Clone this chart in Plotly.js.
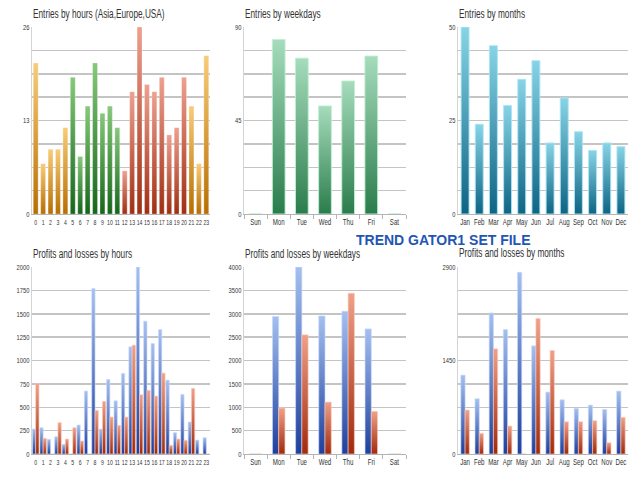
<!DOCTYPE html>
<html>
<head>
<meta charset="utf-8">
<script src="https://cdn.plot.ly/plotly-3.0.1.min.js"></script>
<style>
  html, body { margin: 0; padding: 0; background: #fff; }
  #chart { width: 640px; height: 480px; }
</style>
</head>
<body>
<div id="chart"></div>
<script>
// data
var hourLabels = ['0','1','2','3','4','5','6','7','8','9','10','11','12','13','14','15','16','17','18','19','20','21','22','23'];
var hourEntries = [21,7,9,9,12,19,8,15,21,14,15,12,6,17,26,18,17,19,11,12,19,15,7,22];
var hourSession = ['Asia','Asia','Asia','Asia','Asia','Europe','Europe','Europe','Europe','Europe','Europe','Europe',
                   'USA','USA','USA','USA','USA','USA','USA','USA','USA','Asia','Asia','Asia'];

var dayLabels = ['Sun','Mon','Tue','Wed','Thu','Fri','Sat'];
var dayEntries = [0,84,75,52,64,76,0];

var monthLabels = ['Jan','Feb','Mar','Apr','May','Jun','Jul','Aug','Sep','Oct','Nov','Dec'];
var monthEntries = [50,24,45,29,36,41,19,31,22,17,19,18];

var hourProfit = [267,281,157,185,103,0,310,673,1769,267,797,569,861,1146,2000,1420,1181,1331,790,228,637,342,149,174];
var hourLoss   = [755,167,0,335,160,281,139,0,466,562,395,306,395,1164,633,680,619,865,93,160,146,701,0,0];

var dayProfit = [0,2940,4000,2954,3053,2676,0];
var dayLoss   = [0,982,2548,1110,3438,911,0];

var monthProfit = [1223,857,2188,1930,2817,1677,960,841,707,758,691,975];
var monthLoss   = [681,320,1631,433,0,2100,1605,500,500,516,175,568];

// colours: base colour -> gradient (top, bottom)
var grads = {
  '#e09a2a': ['#f8cc78', '#b86e00'],   // asia orange
  '#3f983a': ['#86c97a', '#16661a'],   // europe green
  '#cc5a42': ['#eea090', '#a02e12'],   // usa red
  '#5caa82': ['#a6dcbc', '#2a7c4c'],   // weekday green
  '#3a9ab4': ['#88d4e6', '#0e6484'],   // month teal
  '#4a72c4': ['#a4c0f0', '#1e3f9c'],   // profit blue
  '#d05a3a': ['#f0a088', '#a02a0c']    // loss red
};
var sessionColor = {Asia: '#e09a2a', Europe: '#3f983a', USA: '#cc5a42'};

var W = 640, H = 480;
function px(x) { return x / W; }
function py(y) { return 1 - y / H; }

var font = 'Liberation Sans, Arial, sans-serif';
var colX = [[32, 210], [244, 406], [458, 628]];
var rowY = [[27, 214], [267, 454]];

function yTicks(max, labelled) {
  var vals = [], txt = [];
  for (var i = 0; i <= 8; i++) {
    var v = max * i / 8;
    vals.push(v);
    txt.push(labelled.indexOf(i) >= 0 ? String(Math.round(v)) : '');
  }
  return {vals: vals, txt: txt};
}

function xAxis(col, labels, anchor, boundaryTicks, fsize) {
  return {
    domain: [px(colX[col][0]), px(colX[col][1])],
    anchor: anchor,
    type: 'category',
    tickmode: 'array',
    tickvals: labels,
    ticktext: labels,
    showgrid: false,
    showline: true,
    linecolor: '#b4b4b4',
    linewidth: 1,
    ticks: boundaryTicks ? 'outside' : '',
    tickson: boundaryTicks ? 'boundaries' : 'labels',
    ticklen: 4,
    tickcolor: '#b4b4b4',
    tickfont: {family: font, size: fsize || 8.5, color: '#333'},
    tickangle: 0,
    fixedrange: true
  };
}
function yAxis(row, anchor, max, labelled) {
  var t = yTicks(max, labelled);
  return {
    domain: [py(rowY[row][1]), py(rowY[row][0])],
    anchor: anchor,
    range: [0, max],
    tickmode: 'array',
    tickvals: t.vals,
    ticktext: t.txt,
    showgrid: true,
    gridcolor: '#c4c4c4',
    gridwidth: 1.5,
    zeroline: false,
    showline: true,
    linecolor: '#d4d4d4',
    ticks: '',
    tickfont: {family: font, size: 8, color: '#333'},
    fixedrange: true
  };
}

var data = [];

// Entries by hours
data.push({
  type: 'bar', x: hourLabels, y: hourEntries, xaxis: 'x', yaxis: 'y',
  width: 0.66,
  marker: {color: hourSession.map(function (s) { return sessionColor[s]; }),
           line: {color: 'rgba(255,255,255,0.35)', width: 0.8}},
  showlegend: false
});
// Entries by weekdays
data.push({
  type: 'bar', x: dayLabels, y: dayEntries, xaxis: 'x2', yaxis: 'y2',
  width: 0.55,
  marker: {color: '#5caa82', line: {color: 'rgba(190,240,210,0.9)', width: 1}},
  showlegend: false
});
// Entries by months
data.push({
  type: 'bar', x: monthLabels, y: monthEntries, xaxis: 'x3', yaxis: 'y3',
  width: 0.56,
  marker: {color: '#3a9ab4', line: {color: 'rgba(170,230,245,0.9)', width: 1}},
  showlegend: false
});

// Profits and losses: blue left, red right inside each slot
function pnl(xs, prof, loss, xa, ya, w) {
  data.push({
    type: 'bar', x: xs, y: prof, xaxis: xa, yaxis: ya, width: w, offset: -w,
    marker: {color: '#4a72c4', line: {color: 'rgba(200,215,250,0.8)', width: 0.8}},
    name: 'Profit', showlegend: false
  });
  data.push({
    type: 'bar', x: xs, y: loss, xaxis: xa, yaxis: ya, width: w, offset: 0,
    marker: {color: '#d05a3a', line: {color: 'rgba(250,200,185,0.8)', width: 0.8}},
    name: 'Loss', showlegend: false
  });
}
pnl(hourLabels, hourProfit, hourLoss, 'x4', 'y4', 0.44);
pnl(dayLabels, dayProfit, dayLoss, 'x5', 'y5', 0.27);
pnl(monthLabels, monthProfit, monthLoss, 'x6', 'y6', 0.3);

function title(text, x, y) {
  return {text: text, xref: 'paper', yref: 'paper', x: px(x), y: py(y),
          xanchor: 'left', yanchor: 'middle', showarrow: false,
          font: {family: font, size: 12.5, color: '#333'}};
}

var layout = {
  width: W, height: H,
  margin: {l: 0, r: 0, t: 0, b: 0},
  paper_bgcolor: '#fff', plot_bgcolor: 'rgba(0,0,0,0)',
  barmode: 'overlay',
  showlegend: false,
  xaxis:  xAxis(0, hourLabels, 'y', false, 8),
  yaxis:  yAxis(0, 'x', 26, [0, 4, 8]),
  xaxis2: xAxis(1, dayLabels, 'y2', true),
  yaxis2: yAxis(0, 'x2', 90, [0, 4, 8]),
  xaxis3: xAxis(2, monthLabels, 'y3', false),
  yaxis3: yAxis(0, 'x3', 50, [0, 4, 8]),
  xaxis4: xAxis(0, hourLabels, 'y4', false, 8),
  yaxis4: yAxis(1, 'x4', 2000, [0,1,2,3,4,5,6,7,8]),
  xaxis5: xAxis(1, dayLabels, 'y5', true),
  yaxis5: yAxis(1, 'x5', 4000, [0,1,2,3,4,5,6,7,8]),
  xaxis6: xAxis(2, monthLabels, 'y6', false),
  yaxis6: yAxis(1, 'x6', 2900, [0, 4, 8]),
  annotations: [
    title('Entries by hours (Asia,Europe,USA)', 31, 14),
    title('Entries by weekdays', 243, 14),
    title('Entries by months', 457, 14),
    title('Profits and losses by hours', 31, 254),
    title('Profits and losses by weekdays', 243, 254),
    title('Profits and losses by months', 457, 253),
    {text: '<b>TREND GATOR1 SET FILE</b>', xref: 'paper', yref: 'paper',
     x: px(443), y: py(240), xanchor: 'center', yanchor: 'middle', showarrow: false,
     font: {family: 'Liberation Sans, Arial, sans-serif', size: 14, color: '#2356b4'}}
  ]
};

function toRgb(hex) {
  var n = parseInt(hex.slice(1), 16);
  return 'rgb(' + (n >> 16) + ', ' + ((n >> 8) & 255) + ', ' + (n & 255) + ')';
}

// swap the flat bar fills for vertical gradients like the original
function addGradients(gd) {
  var svg = gd.querySelector('.main-svg');
  var defs = svg.querySelector('defs');
  var ns = 'http://www.w3.org/2000/svg';
  var byRgb = {};
  Object.keys(grads).forEach(function (hex, i) {
    var g = document.createElementNS(ns, 'linearGradient');
    g.setAttribute('id', 'bargrad' + i);
    g.setAttribute('x1', '0'); g.setAttribute('y1', '0');
    g.setAttribute('x2', '0'); g.setAttribute('y2', '1');
    [[0, grads[hex][0]], [1, grads[hex][1]]].forEach(function (s) {
      var st = document.createElementNS(ns, 'stop');
      st.setAttribute('offset', s[0]);
      st.setAttribute('stop-color', s[1]);
      g.appendChild(st);
    });
    defs.appendChild(g);
    byRgb[toRgb(hex)] = 'url(#bargrad' + i + ')';
  });
  gd.querySelectorAll('.bars .point path').forEach(function (p) {
    var f = p.style.fill;
    if (byRgb[f]) p.style.fill = byRgb[f];
  });
}

// the original uses a narrow face; squeeze the text horizontally
function squeeze(t, f, keepLeft) {
  var L = t.getComputedTextLength();
  if (!L) return;
  if (keepLeft) {
    var b = t.getBBox();
    t.setAttribute('text-anchor', 'start');
    t.style.textAnchor = 'start';
    t.setAttribute('x', b.x);
  }
  t.setAttribute('textLength', L * f);
  t.setAttribute('lengthAdjust', 'spacingAndGlyphs');
}
function condense(gd) {
  gd.querySelectorAll('.xaxislayer-above text, .yaxislayer-above text').forEach(function (t) {
    var hourTick = t.parentNode.classList.contains('xtick') || t.parentNode.classList.contains('x4tick');
    squeeze(t, hourTick ? 0.64 : 0.72, false);
  });
  gd.querySelectorAll('.annotation-text').forEach(function (t) {
    if (t.textContent.indexOf('TREND') < 0) squeeze(t, 0.66, true);
  });
}

Plotly.newPlot('chart', data, layout, {displayModeBar: false, staticPlot: true})
  .then(function (gd) { addGradients(gd); condense(gd); });
</script>
</body>
</html>
